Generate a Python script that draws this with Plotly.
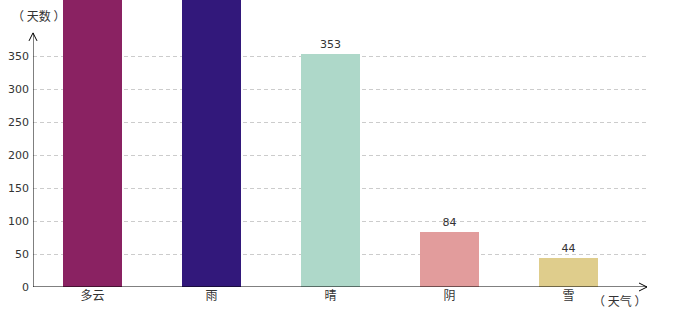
import plotly.graph_objects as go

categories = ["多云", "雨", "晴", "阴", "雪"]
days = [1000, 800, 353, 84, 44]
colors = ["#8a2262", "#32187b", "#aed8c9", "#e29c9c", "#dfcd8c"]
y_ticks = [0, 50, 100, 150, 200, 250, 300, 350]

PX_PER_UNIT = 0.66
Y_TOP = 287 / PX_PER_UNIT
X_MIN, X_MAX = -0.5, 4.66
Y_ARROW = 385

# plot area in pixels: left 33, right 647, top 0, bottom 287
PL, PR, PT, PB = 33, 647, 0, 287


def px(x):
    return (x - PL) / (PR - PL)


def py(y):
    return (PB - y) / (PB - PT)


labels = [str(v) if v < Y_TOP else "" for v in days]

fig = go.Figure()
fig.add_trace(go.Bar(
    x=list(range(len(categories))), y=days,
    marker=dict(color=colors, line=dict(width=0)),
    width=0.496,
    text=labels, textposition="outside",
    textfont=dict(family="DejaVu Sans", size=11, color="#333"),
    cliponaxis=True, hoverinfo="skip",
))

ya = 287 - Y_ARROW * PX_PER_UNIT
shapes = [
    dict(type="line", xref="x", yref="y", x0=X_MIN, x1=X_MIN, y0=0, y1=Y_ARROW,
         line=dict(color="#000", width=1)),
    dict(type="line", xref="x", yref="y", x0=X_MIN, x1=X_MAX, y0=0, y1=0,
         line=dict(color="#000", width=1)),
    dict(type="path", xref="paper", yref="paper",
         path=f"M{px(PL-4)},{py(ya+8)} L{px(PL)},{py(ya)} L{px(PL+4)},{py(ya+8)}",
         line=dict(color="#000", width=1)),
    dict(type="path", xref="paper", yref="paper",
         path=f"M{px(PR-8)},{py(PB-4)} L{px(PR)},{py(PB)} L{px(PR-8)},{py(PB+4)}",
         line=dict(color="#000", width=1)),
]

cjk = "Noto Sans CJK SC"
annotations = [
    dict(text="（ 天数 ）", xref="paper", yref="paper", x=px(38), y=py(15),
         xanchor="center", yanchor="middle", showarrow=False,
         font=dict(family=cjk, size=12, color="#333")),
    dict(text="（ 天气 ）", xref="paper", yref="paper", x=px(619), y=py(300),
         xanchor="center", yanchor="middle", showarrow=False,
         font=dict(family=cjk, size=12, color="#333")),
]

fig.update_layout(
    width=680, height=320,
    margin=dict(l=PL, r=680 - PR, t=PT, b=320 - PB),
    paper_bgcolor="white", plot_bgcolor="white",
    showlegend=False, bargap=0,
    shapes=shapes, annotations=annotations,
    xaxis=dict(range=[X_MIN, X_MAX], tickmode="array",
               tickvals=list(range(len(categories))), ticktext=categories,
               showgrid=False, zeroline=False, showline=False, ticks="",
               tickfont=dict(family=cjk, size=12, color="#333"), fixedrange=True),
    yaxis=dict(range=[0, Y_TOP], tickmode="array", tickvals=y_ticks,
               ticktext=[str(v) for v in y_ticks],
               showgrid=True, gridcolor="#cccccc", griddash="4px,3px", gridwidth=1,
               zeroline=False, showline=False, ticks="", ticklabelstandoff=3,
               tickfont=dict(family="DejaVu Sans", size=11, color="#333"),
               fixedrange=True),
)

fig.write_html("out.html")
